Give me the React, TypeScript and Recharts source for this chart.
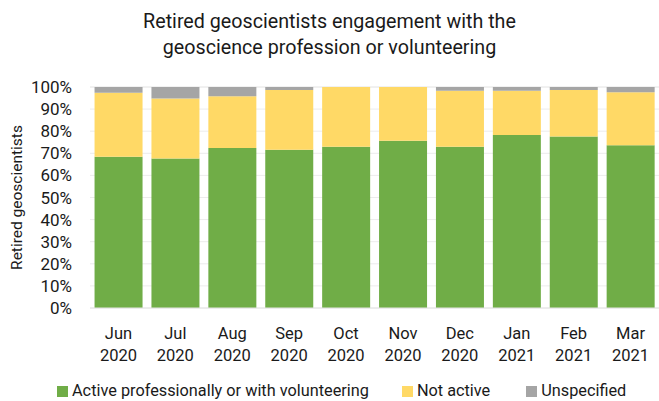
import React from "react";
import { BarChart, Bar, XAxis, YAxis, CartesianGrid, Label } from "recharts";

const months = ["Jun", "Jul", "Aug", "Sep", "Oct", "Nov", "Dec", "Jan", "Feb", "Mar"];
const years = ["2020", "2020", "2020", "2020", "2020", "2020", "2020", "2021", "2021", "2021"];
const active = [68.4, 67.6, 72.4, 71.6, 73.0, 75.7, 73.0, 78.3, 77.6, 73.6];
const notActive = [29.0, 27.2, 23.4, 27.0, 27.0, 24.3, 25.3, 20.0, 21.0, 24.0];
const unspecified = [2.6, 5.2, 4.2, 1.4, 0, 0, 1.7, 1.7, 1.4, 2.4];
const yTicks = [0, 10, 20, 30, 40, 50, 60, 70, 80, 90, 100];

const data = months.map((m, i) => ({
  label: m,
  year: years[i],
  active: active[i],
  notActive: notActive[i],
  unspecified: unspecified[i],
}));

const GREEN = "#70AD47";
const YELLOW = "#FFD966";
const GRAY = "#A5A5A5";
const FONT = "Roboto, 'Liberation Sans', sans-serif";
const TEXT = "#1a1a1a";

const XTick = (props: any) => {
  const { x, y, payload, index } = props;
  return (
    <g>
      <text x={x} y={y + 23} textAnchor="middle" fontSize={16.5} fill={TEXT} fontFamily={FONT}>
        {payload.value}
      </text>
      <text x={x} y={y + 45} textAnchor="middle" fontSize={16.5} fill={TEXT} fontFamily={FONT}>
        {years[index]}
      </text>
    </g>
  );
};

const legendItems = [
  { name: "Active professionally or with volunteering", color: GREEN, gap: 0 },
  { name: "Not active", color: YELLOW, gap: 33 },
  { name: "Unspecified", color: GRAY, gap: 36 },
];

export default function App() {
  return (
    <div style={{ position: "absolute", left: 0, top: 0, width: 659, height: 401, background: "#fff", fontFamily: FONT }}>
      <div
        style={{
          position: "absolute",
          left: 0,
          top: 9,
          width: 659,
          textAlign: "center",
          fontSize: 19.7,
          lineHeight: "26px",
          color: TEXT,
        }}
      >
        Retired geoscientists engagement with the
        <br />
        geoscience profession or volunteering
      </div>
      <BarChart
        width={659}
        height={401}
        data={data}
        margin={{ top: 87, right: 0, bottom: 33, left: 0 }}
        barCategoryGap="8%"
      >
        <CartesianGrid vertical={false} stroke="#ececec" />
        <XAxis
          dataKey="label"
          tick={<XTick />}
          tickLine={false}
          axisLine={{ stroke: "#e4e4e4" }}
          interval={0}
          height={60}
        />
        <YAxis
          width={90}
          domain={[0, 100]}
          ticks={yTicks}
          tickFormatter={(v: number) => `${v}%`}
          axisLine={false}
          tickLine={false}
          tickSize={0}
          tickMargin={18}
          tick={{ fontSize: 17, fill: TEXT, fontFamily: FONT }}
          interval={0}
        >
          <Label
            value="Retired geoscientists"
            angle={-90}
            position="insideLeft"
            offset={0}
            style={{ fontSize: 15.5, fill: TEXT, fontFamily: FONT, textAnchor: "middle" }}
            dx={16}
          />
        </YAxis>
        <Bar dataKey="active" stackId="a" fill={GREEN} isAnimationActive={false} />
        <Bar dataKey="notActive" stackId="a" fill={YELLOW} isAnimationActive={false} />
        <Bar dataKey="unspecified" stackId="a" fill={GRAY} isAnimationActive={false} />
      </BarChart>
      <div
        style={{
          position: "absolute",
          left: 57,
          top: 381,
          display: "flex",
          fontSize: 16.3,
          lineHeight: "20px",
          color: TEXT,
          whiteSpace: "nowrap",
        }}
      >
        {legendItems.map((it) => (
          <div key={it.name} style={{ display: "flex", alignItems: "center", marginLeft: it.gap }}>
            <span style={{ width: 11, height: 11, background: it.color, display: "inline-block", marginRight: 4 }} />
            <span>{it.name}</span>
          </div>
        ))}
      </div>
    </div>
  );
}
